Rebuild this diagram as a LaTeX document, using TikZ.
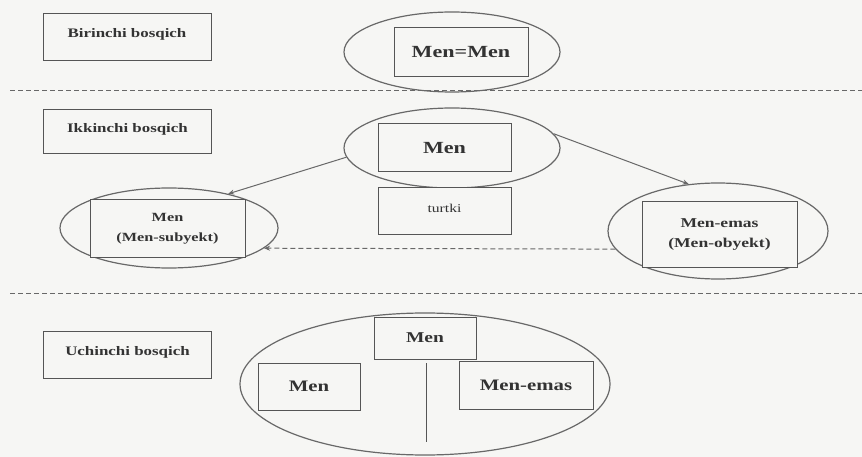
\documentclass[tikz,border=0pt]{standalone}
\usepackage{fontspec}
\setmainfont[FakeStretch=1.3]{Liberation Serif}
\usetikzlibrary{shapes.geometric,arrows.meta}
\definecolor{bg}{HTML}{F6F6F4}
\definecolor{ln}{HTML}{686868}
\definecolor{bx}{HTML}{555555}
\definecolor{tx}{HTML}{333333}
\begin{document}
\begin{tikzpicture}[x=1pt,y=-1pt,
  stagebox/.style={draw=bx, line width=1pt, fill=bg, minimum width=168pt, minimum height=47pt, inner sep=0pt, text depth=9pt, text=tx, font=\fontsize{13}{15}\selectfont\bfseries},
  oval/.style={draw=ln, line width=1.2pt, ellipse, inner sep=0pt},
  mbox/.style={draw=bx, line width=1pt, fill=bg, inner sep=0pt, text=tx, align=center},
  sep/.style={draw=ln, line width=1pt, dash pattern=on 5pt off 3pt},
  conn/.style={draw=ln, line width=1pt, -{Stealth[length=6pt,width=5pt]}}
]
\useasboundingbox[fill=bg] (0,0) rectangle (862,457);

% stage labels
\node[stagebox] (s1) at (127,37) {Birinchi bosqich};
\node[stagebox, minimum height=44pt] (s2) at (127.5,132) {Ikkinchi bosqich};
\node[stagebox] (s3) at (127.5,355) {Uchinchi bosqich};

% separators
\coordinate (d1a) at (10,91);  \coordinate (d1b) at (862,91);
\coordinate (d2a) at (10,293); \coordinate (d2b) at (862,293);
\draw[sep] (d1a) -- (d1b);
\draw[sep] (d2a) -- (d2b);

% stage 1
\node[oval, minimum width=216pt, minimum height=80pt] (e1) at (452,52) {};
\node[mbox, minimum width=134pt, minimum height=49pt, font=\fontsize{17}{19}\selectfont\bfseries] (b1) at (461,52.5) {Men=Men};

% stage 2
\node[oval, minimum width=216pt, minimum height=80pt] (e2) at (452,148) {};
\node[mbox, minimum width=133pt, minimum height=48pt, font=\fontsize{17}{19}\selectfont\bfseries] (b2) at (444.5,148) {Men};
\node[mbox, minimum width=133pt, minimum height=47pt, text depth=6pt, font=\fontsize{12}{14}\selectfont] (tk) at (444.5,211) {turtki};

\node[oval, minimum width=218pt, minimum height=80pt] (el) at (169,228) {};
\node[mbox, minimum width=155pt, minimum height=57pt, font=\fontsize{12.5}{20}\selectfont\bfseries] (bl) at (167.5,228.5) {Men\\(Men-subyekt)};

\node[oval, minimum width=220pt, minimum height=96pt] (er) at (718,231) {};
\node[mbox, minimum width=155pt, minimum height=65pt, font=\fontsize{13.5}{20}\selectfont\bfseries] (br) at (719.5,234.5) {Men-emas\\(Men-obyekt)};

\draw[conn] (e2.185) -- (el.30);
\draw[conn] (e2.8) -- (er.122);
\draw[conn, dash pattern=on 5pt off 3pt] (er.190) -- (el.-12);

% stage 3
\node[oval, minimum width=370pt, minimum height=142pt] (e3) at (425,384) {};
\node[mbox, minimum width=102pt, minimum height=42pt, font=\fontsize{15}{17}\selectfont\bfseries] (m3) at (425,338) {Men};
\node[mbox, minimum width=102pt, minimum height=47pt, font=\fontsize{16}{18}\selectfont\bfseries] (ml) at (309,386.5) {Men};
\node[mbox, minimum width=134pt, minimum height=48pt, font=\fontsize{16}{18}\selectfont\bfseries] (mr) at (526,385) {Men-emas};
\coordinate (vt) at (426,363);
\coordinate (vb) at (426,442);
\draw[draw=bx, line width=1pt] (vt) -- (vb);
\end{tikzpicture}
\end{document}
